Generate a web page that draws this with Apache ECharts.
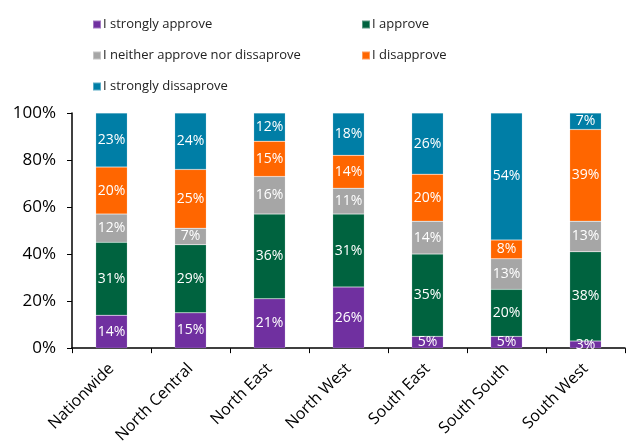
<!DOCTYPE html>
<html>
<head>
<meta charset="utf-8">
<script src="https://cdn.jsdelivr.net/npm/echarts@6/dist/echarts.min.js"></script>
<style>
  html, body { margin: 0; padding: 0; background: #fff; }
  #chart { width: 629px; height: 446px; }
</style>
</head>
<body>
<div id="chart"></div>
<script>
// Regions surveyed
const regions = ['Nationwide', 'North Central', 'North East', 'North West', 'South East', 'South South', 'South West'];

// Share of respondents per answer, in percent
const stronglyApprove    = [14, 15, 21, 26, 5, 5, 3];
const approve            = [31, 29, 36, 31, 35, 20, 38];
const neither            = [12, 7, 16, 11, 14, 13, 13];
const disapprove         = [20, 25, 15, 14, 20, 8, 39];
const stronglyDisapprove = [23, 24, 12, 18, 26, 54, 7];

const answerNames = ['I strongly approve', 'I approve', 'I neither approve nor dissaprove', 'I disapprove', 'I strongly dissaprove'];
const answerColors = ['#7030A0', '#00633F', '#A6A6A6', '#FF6600', '#007EA6'];
const answerValues = [stronglyApprove, approve, neither, disapprove, stronglyDisapprove];

const yTicks = [0, 20, 40, 60, 80, 100];

const font = '"Open Sans", "Noto Sans", sans-serif';

const series = answerNames.map((name, i) => ({
  name: name,
  type: 'bar',
  stack: 'total',
  barWidth: '40%',
  data: answerValues[i],
  itemStyle: { color: answerColors[i], borderColor: 'rgba(255,255,255,0.35)', borderWidth: 0.5 },
  label: {
    show: true,
    position: 'inside',
    formatter: '{c}%',
    color: '#fff',
    fontFamily: font,
    fontSize: 14
  }
}));

// Legend laid out in two columns, one legend block per entry
const legendPos = [
  { left: 92, top: 18 },
  { left: 361, top: 18 },
  { left: 92, top: 49 },
  { left: 361, top: 49 },
  { left: 92, top: 80 }
];
const legends = answerNames.map((name, i) => ({
  data: [name],
  left: legendPos[i].left,
  top: legendPos[i].top,
  padding: 0,
  itemWidth: 8,
  itemHeight: 8,
  itemGap: 2,
  icon: 'rect',
  selectedMode: false,
  textStyle: { fontFamily: font, fontSize: 13, color: '#222', padding: [0, 0, 0, -3] }
}));

const chart = echarts.init(document.getElementById('chart'));
chart.setOption({
  animation: false,
  backgroundColor: '#fff',
  legend: legends,
  grid: { left: 72, right: 4, top: 113, bottom: 97 },
  xAxis: {
    type: 'category',
    data: regions,
    axisLine: { lineStyle: { color: '#000', width: 1.5 } },
    axisTick: { show: true, alignWithLabel: false, length: 5, lineStyle: { color: '#000' } },
    axisLabel: {
      rotate: 45,
      interval: 0,
      color: '#000',
      fontFamily: font,
      fontSize: 16,
      margin: 18
    }
  },
  yAxis: {
    type: 'value',
    min: yTicks[0],
    max: yTicks[yTicks.length - 1],
    interval: 20,
    axisLine: { show: true, lineStyle: { color: '#000', width: 1.5 } },
    axisTick: { show: true, length: 5, lineStyle: { color: '#000' } },
    splitLine: { show: false },
    axisLabel: {
      formatter: '{value}%',
      color: '#000',
      fontFamily: font,
      fontSize: 17,
      margin: 16
    }
  },
  series: series
});
</script>
</body>
</html>
